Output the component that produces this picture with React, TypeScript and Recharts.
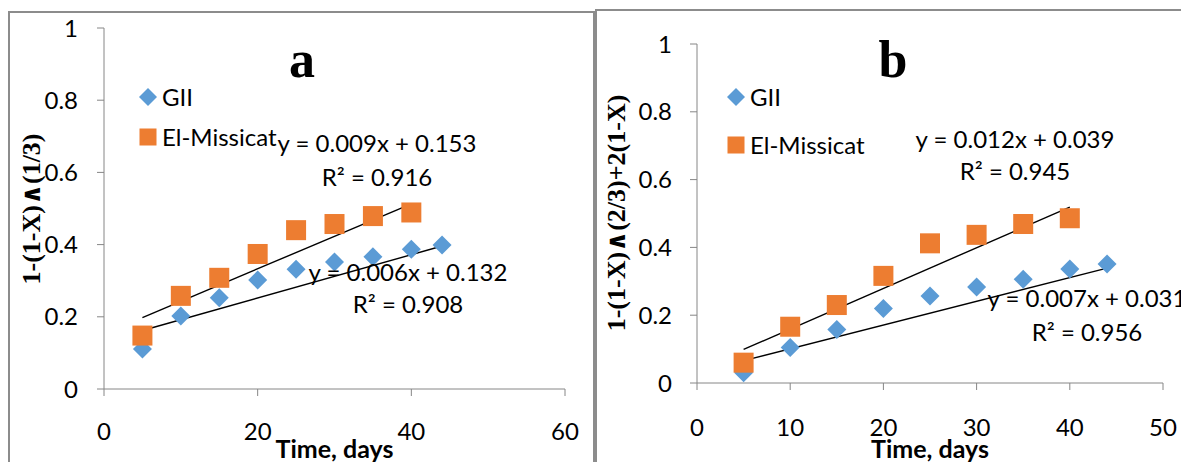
import React from "react";
import { ScatterChart, Scatter, XAxis, YAxis, ReferenceLine } from "recharts";

const BLUE = "#5B9BD5";
const ORANGE = "#ED7D31";
const AXIS = "#868686";
const FONT = "Lato, 'Open Sans', sans-serif";
const SERIF = "'Liberation Serif', 'DejaVu Serif', serif";

const daysGii = [5, 10, 15, 20, 25, 30, 35, 40, 44];
const daysMissicat = [5, 10, 15, 20, 25, 30, 35, 40];

// panel a: 1-(1-X)^(1/3)
const giiA = [0.111, 0.202, 0.253, 0.302, 0.332, 0.352, 0.366, 0.387, 0.399];
const missicatA = [0.148, 0.258, 0.308, 0.374, 0.44, 0.457, 0.479, 0.489];

// panel b: 1-(1-X)^(2/3)+2(1-X)
const giiB = [0.03, 0.105, 0.158, 0.22, 0.257, 0.283, 0.306, 0.336, 0.351];
const missicatB = [0.06, 0.166, 0.23, 0.316, 0.412, 0.437, 0.469, 0.486];

// linear fits: [slope, intercept, R²]
const fitGiiA = [0.006, 0.132, 0.908];
const fitMissicatA = [0.009, 0.153, 0.916];
const fitGiiB = [0.007, 0.031, 0.956];
const fitMissicatB = [0.012, 0.039, 0.945];

const xTicksA = [0, 20, 40, 60];
const xTicksB = [0, 10, 20, 30, 40, 50];
const yTicks = [0, 0.2, 0.4, 0.6, 0.8, 1];

const toPoints = (xs: number[], ys: number[]) => xs.map((x, i) => ({ x, y: ys[i] }));

const fitSegment = (xs: number[], fit: number[]) => {
  const x0 = xs[0];
  const x1 = xs[xs.length - 1];
  return [
    { x: x0, y: fit[0] * x0 + fit[1] },
    { x: x1, y: fit[0] * x1 + fit[1] },
  ];
};

const eqText = (fit: number[]) => `y = ${fit[0].toFixed(3)}x + ${fit[1].toFixed(3)}`;
const r2Text = (fit: number[]) => `R² = ${fit[2].toFixed(3)}`;

function Diamond({ cx, cy, r, fill }: any) {
  return <path d={`M${cx},${cy - r}L${cx + r},${cy}L${cx},${cy + r}L${cx - r},${cy}Z`} fill={fill} />;
}

function Square({ cx, cy, r, fill }: any) {
  return <rect x={cx - r} y={cy - r} width={2 * r} height={2 * r} fill={fill} />;
}

type PanelProps = {
  left: number;
  width: number;
  top: number;
  right: number;
  yAxisWidth: number;
  xAxisHeight: number;
  xMax: number;
  xTicks: number[];
  tickGap: number;
  yTickMargin: number;
  gii: number[];
  missicat: number[];
  fitGii: number[];
  fitMissicat: number[];
};

function Panel(p: PanelProps) {
  const XTick = ({ x, y, payload }: any) => (
    <text x={x} y={y + p.tickGap} textAnchor="middle" dominantBaseline="central"
      fontSize={24} fontFamily={FONT} fill="#000">
      {payload.value}
    </text>
  );
  return (
    <div style={{ position: "absolute", left: p.left, top: 0 }}>
      <ScatterChart width={p.width} height={462}
        margin={{ top: p.top, right: p.right, bottom: 0, left: 0 }}>
        <XAxis type="number" dataKey="x" domain={[0, p.xMax]} ticks={p.xTicks}
          height={p.xAxisHeight} tickSize={7} tickMargin={0} tick={<XTick />}
          stroke={AXIS} interval={0}
          label={{ value: "Time, days", position: "insideBottom", offset: 4,
            style: { fontSize: 25, fontWeight: 700, fontFamily: FONT, fill: "#000" } }} />
        <YAxis type="number" dataKey="y" domain={[0, 1]} ticks={yTicks}
          width={p.yAxisWidth} tickSize={7} tickMargin={p.yTickMargin} stroke={AXIS}
          interval={0} tick={{ fontSize: 24, fontFamily: FONT, fill: "#000" }} />
        <Scatter name="GII" data={toPoints(daysGii, p.gii)} isAnimationActive={false}
          shape={(s: any) => <Diamond cx={s.cx} cy={s.cy} r={9.5} fill={BLUE} />} />
        <Scatter name="El-Missicat" data={toPoints(daysMissicat, p.missicat)} isAnimationActive={false}
          shape={(s: any) => <Square cx={s.cx} cy={s.cy} r={10} fill={ORANGE} />} />
        <ReferenceLine segment={fitSegment(daysMissicat, p.fitMissicat)} stroke="#000" strokeWidth={1.4} />
        <ReferenceLine segment={fitSegment(daysGii, p.fitGii)} stroke="#000" strokeWidth={1.4} />
      </ScatterChart>
    </div>
  );
}

// legend, titles, fit equations and axis titles on top of both panels
function Overlay() {
  const txt = { fontSize: 24, fontFamily: FONT, fill: "#000" };
  const base = (cy: number) => cy + 8.6;
  const legend = (x: number, yGii: number, yMis: number) => (
    <g>
      <Diamond cx={x} cy={yGii} r={9} fill={BLUE} />
      <text x={x + 14} y={base(yGii)} {...txt}>GII</text>
      <Square cx={x} cy={yMis} r={8.5} fill={ORANGE} />
      <text x={x + 14} y={base(yMis)} {...txt}>El-Missicat</text>
    </g>
  );
  const eq = (cx: number, y1: number, y2: number, fit: number[]) => (
    <g textAnchor="middle">
      <text x={cx} y={base(y1)} {...txt}>{eqText(fit)}</text>
      <text x={cx} y={base(y2)} {...txt}>{r2Text(fit)}</text>
    </g>
  );
  const yTitle = { fontSize: 26, fontWeight: 700, fontFamily: SERIF, fill: "#000", textAnchor: "middle" as const };
  return (
    <svg width={1181} height={462} style={{ position: "absolute", left: 0, top: 0, pointerEvents: "none" }}>
      <text x={302} y={77} fontSize={52} fontWeight={700} fontFamily={SERIF} textAnchor="middle">a</text>
      <text x={893} y={77} fontSize={52} fontWeight={700} fontFamily={SERIF} textAnchor="middle">b</text>
      {legend(148, 97, 137)}
      {legend(736, 97, 145)}
      {eq(377, 143, 177, fitMissicatA)}
      {eq(408, 272, 304, fitGiiA)}
      {eq(1015, 139, 171, fitMissicatB)}
      {eq(1087, 298, 332, fitGiiB)}
      <text x={0} y={0} {...yTitle} transform="translate(40,209) rotate(-90)">1-(1-X)∧(1/3)</text>
      <text x={0} y={0} {...yTitle} transform="translate(625,213) rotate(-90)">1-(1-X)∧(2/3)+2(1-X)</text>
    </svg>
  );
}

export default function App() {
  return (
    <div style={{ position: "absolute", left: 0, top: 0, width: 1181, height: 462, overflow: "hidden", background: "#fff" }}>
      <div style={{ position: "absolute", left: 8, top: 11, width: 583, height: 470, border: "2px solid #8c8c8c", borderBottom: "none" }} />
      <div style={{ position: "absolute", left: 595, top: 9, width: 600, height: 470, border: "2px solid #8c8c8c", borderBottom: "none" }} />
      <Panel left={0} width={594} top={28} right={29} yAxisWidth={104} xAxisHeight={73}
        xMax={60} xTicks={xTicksA} tickGap={34} yTickMargin={19}
        gii={giiA} missicat={missicatA} fitGii={fitGiiA} fitMissicat={fitMissicatA} />
      <Panel left={596} width={585} top={44} right={18} yAxisWidth={101} xAxisHeight={79}
        xMax={50} xTicks={xTicksB} tickGap={36} yTickMargin={18}
        gii={giiB} missicat={missicatB} fitGii={fitGiiB} fitMissicat={fitMissicatB} />
      <Overlay />
    </div>
  );
}
